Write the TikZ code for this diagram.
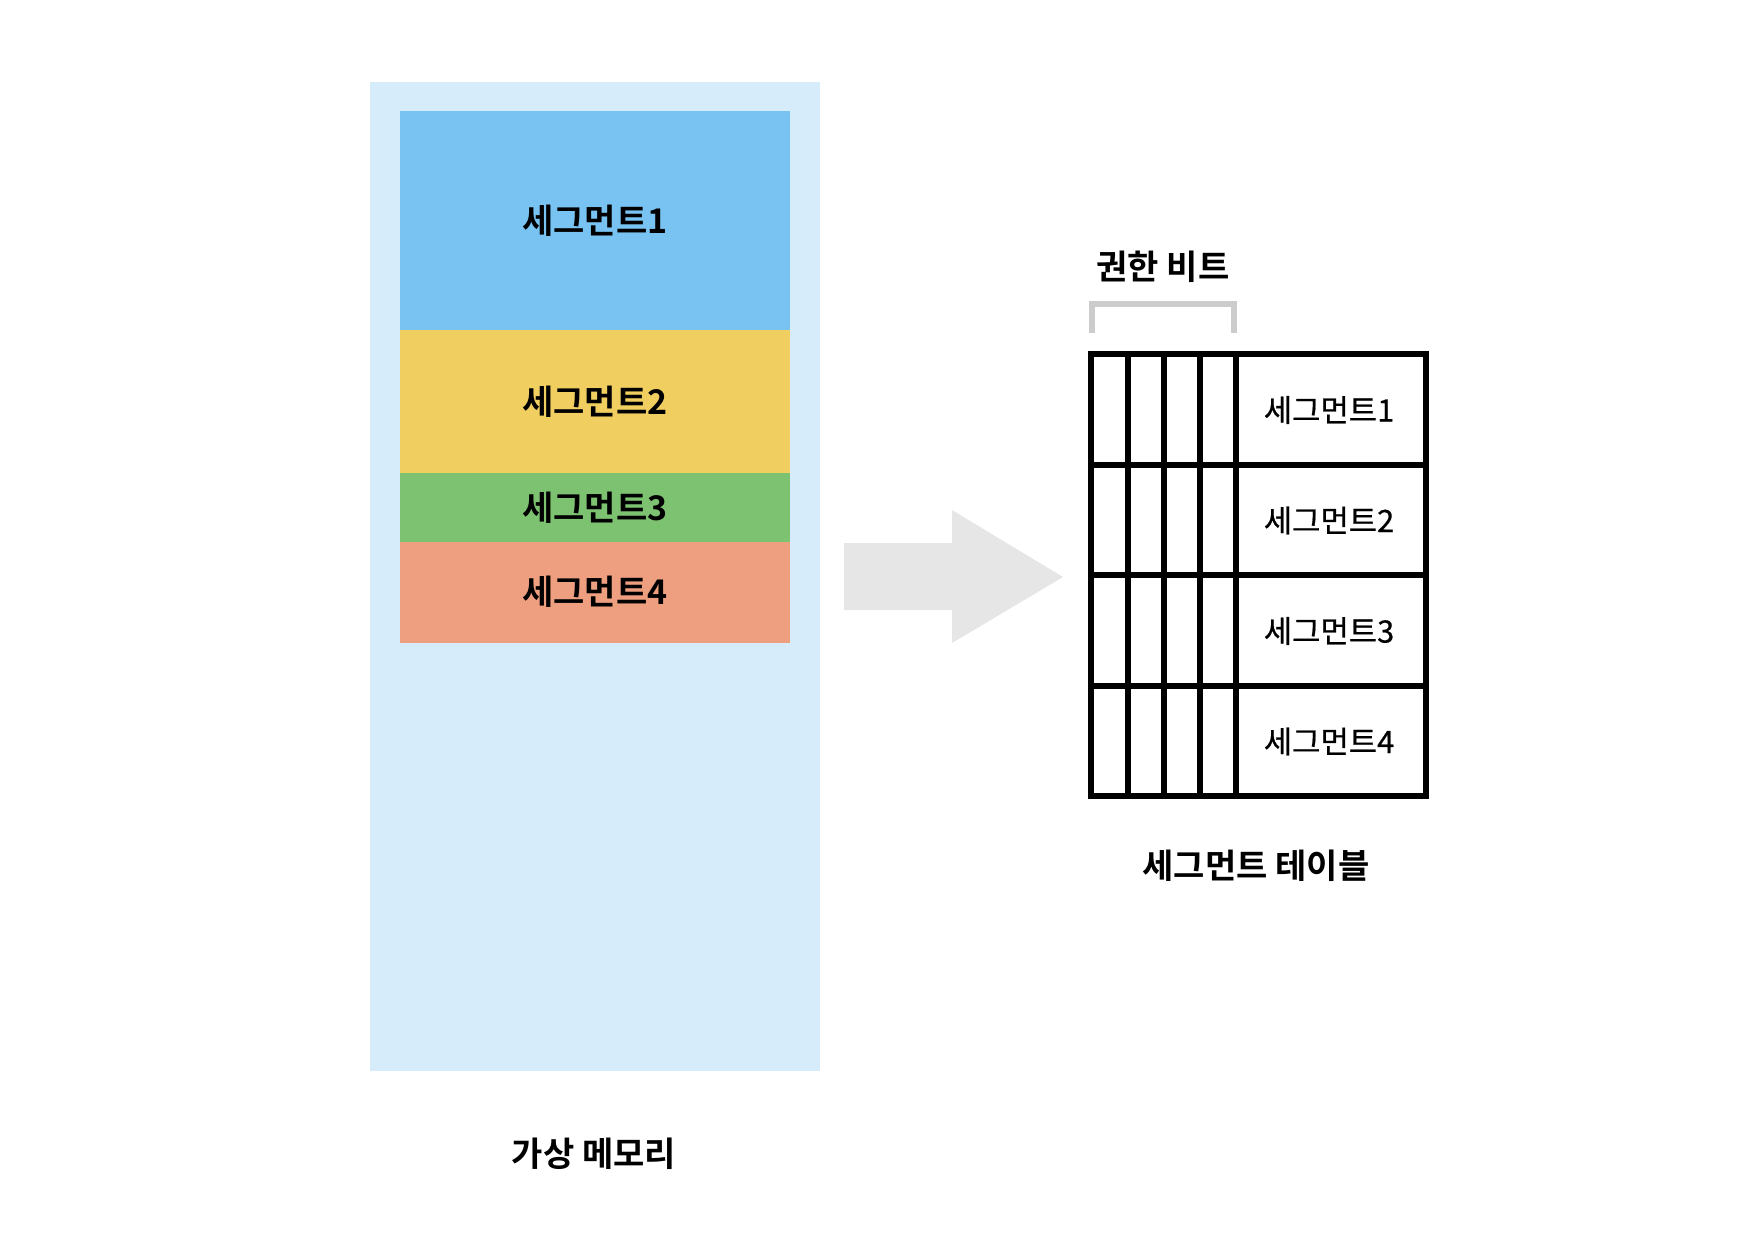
\documentclass[tikz,border=0pt]{standalone}
\usepackage{fontspec}
\setmainfont{Noto Sans CJK KR}[BoldFont={Noto Sans CJK KR Bold}]
\newfontfamily\medfont{Noto Sans CJK KR}[FakeBold=0.6]
\definecolor{memcol}{HTML}{D6ECFA}
\definecolor{segA}{HTML}{78C3F1}
\definecolor{segB}{HTML}{F0CE60}
\definecolor{segC}{HTML}{7DC270}
\definecolor{segD}{HTML}{EE9F80}
\definecolor{arrowcol}{HTML}{E6E6E6}
\definecolor{brackcol}{HTML}{CCCCCC}
\tikzset{
  segbox/.style={rectangle, inner sep=0pt, minimum width=195pt, font=\fontsize{17pt}{20pt}\selectfont\bfseries, text=black},
  lbl/.style={inner sep=0pt, font=\fontsize{17pt}{20pt}\selectfont\bfseries},
  celltext/.style={inner sep=0pt, font=\medfont\fontsize{15.4pt}{18pt}\selectfont},
  gridline/.style={line width=3pt, line cap=rect, line join=miter},
}
\begin{document}
\begin{tikzpicture}[x=0.5pt,y=-0.5pt]
\useasboundingbox (0,0) rectangle (1746,1244);
% virtual memory
\node[rectangle, fill=memcol, inner sep=0pt, minimum width=225pt, minimum height=494.5pt] (mem) at (595,576.5) {};
\node[segbox, fill=segA, minimum height=109.5pt] (s1) at (595,220.5) {세그먼트1};
\node[segbox, fill=segB, minimum height=71.5pt] (s2) at (595,401.5) {세그먼트2};
\node[segbox, fill=segC, minimum height=34.35pt] (s3) at (595,507.35) {세그먼트3};
\node[segbox, fill=segD, minimum height=50.5pt] (s4) at (595,592.2) {세그먼트4};
\node[lbl] (memlabel) at (594,1154) {가상 메모리};
% big arrow
\fill[arrowcol] (844,543) -- (952,543) -- (952,510) -- (1063,577) -- (952,643) -- (952,610) -- (844,610) -- cycle;
% bracket
\draw[brackcol, line width=3pt, line cap=butt, line join=miter] (1092,333) -- (1092,304) -- (1234,304) -- (1234,333);
\node[lbl] (bits) at (1163,267) {권한 비트};
% segment table
\draw[gridline] (1091,354) rectangle (1425.5,796);
\foreach \yy in {464.5,575,685.5} \draw[line width=3pt] (1091,\yy) -- (1425.5,\yy);
\foreach \xx in {1128,1164,1200,1236} \draw[line width=3pt] (\xx,354) -- (\xx,796);
\node[celltext] (t1) at (1329,410) {세그먼트1};
\node[celltext] (t2) at (1329,520.5) {세그먼트2};
\node[celltext] (t3) at (1329,631) {세그먼트3};
\node[celltext] (t4) at (1329,741.5) {세그먼트4};
\node[lbl] (tablabel) at (1256,866) {세그먼트 테이블};
\end{tikzpicture}
\end{document}
